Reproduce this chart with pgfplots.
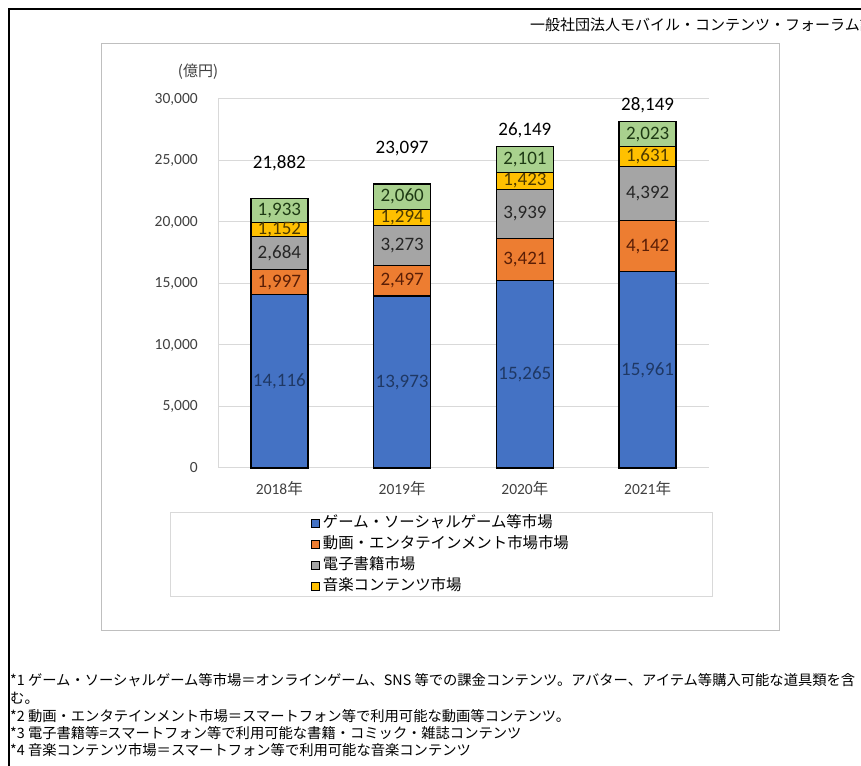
\documentclass[border=0pt]{standalone}
\usepackage{pgfplots}
\pgfplotsset{compat=1.18}
\usepackage{fontspec}
\setmainfont{Carlito}
\newfontfamily\jp{Noto Sans CJK JP}
\definecolor{cblue}{HTML}{4472C4}
\definecolor{corange}{HTML}{ED7D31}
\definecolor{cgray}{HTML}{A5A5A5}
\definecolor{cgold}{HTML}{FFC000}
\definecolor{cgreen}{HTML}{A9D18E}
\definecolor{tblue}{HTML}{1F3864}
\definecolor{torange}{HTML}{5A1E06}
\definecolor{tgray}{HTML}{262626}
\definecolor{tgold}{HTML}{4D3A00}
\definecolor{tgreen}{HTML}{1E3A14}
\definecolor{gridc}{HTML}{D9D9D9}
\definecolor{boxc}{HTML}{BFBFBF}
\definecolor{lbl}{HTML}{404040}

\begin{document}
\begin{tikzpicture}[x=1pt,y=1pt]
\useasboundingbox (0,0) rectangle (861,765);
\clip (0,0) rectangle (861,765);
% outer frame and source line
\draw[line width=2.5pt, black] (9,-2) -- (9,756) -- (865,756);
\node[anchor=west, inner sep=0pt, font=\jp\fontsize{15}{18}\selectfont] at (530,740)
  {一般社団法人モバイル・コンテンツ・フォーラム調査};
% chart box
\draw[boxc, line width=1pt] (101,134) rectangle (779,721);
\node[font=\jp\fontsize{15}{18}\selectfont, text=lbl] at (198,693) {(億円)};

\begin{axis}[
  at={(218pt,297pt)}, anchor=south west,
  scale only axis, width=491pt, height=369pt,
  ybar stacked, bar width=57pt,
  xmin=-0.5, xmax=3.5, ymin=0, ymax=30000,
  xtick={0,1,2,3},
  xticklabels={2018{\jp 年},2019{\jp 年},2020{\jp 年},2021{\jp 年}},
  ytick={0,5000,...,30000},
  scaled y ticks=false,
  /pgf/number format/1000 sep={,},
  /pgf/number format/assume math mode=true,
  ymajorgrids, major grid style={gridc, line width=1pt},
  axis lines*=left, axis line style={gridc, line width=1pt},
  major tick length=0pt,
  yticklabel style={font=\fontsize{15.5}{18}\selectfont, text=lbl, inner sep=0pt, xshift=-20pt},
  xticklabel style={font=\fontsize{15.5}{18}\selectfont, text=lbl, inner sep=0pt, yshift=-13pt},
  clip=false,
  nodes near coords,
  every node near coord/.append style={anchor=center, inner sep=0pt,
    font=\fontsize{19}{22}\selectfont},
  legend image code/.code={\draw[#1, draw=black, line width=0.8pt] (0pt,-4pt) rectangle (8pt,4pt);},
  legend cell align=left,
  legend style={at={(-0.0978,-0.1192)}, anchor=north west, draw=gridc, line width=1pt,
    minimum width=542pt, minimum height=84pt, inner sep=0pt, row sep=0pt,
    font=\jp\fontsize{15.4}{18}\selectfont,
    nodes={minimum width=0pt, minimum height=0pt, inner xsep=3.3pt, inner ysep=2.5pt,
      text height=13pt, text depth=3pt}},
]
\addplot[fill=cblue, draw=black, line width=1.3pt, every node near coord/.append style={text=tblue}]
  coordinates {(0,14116) (1,13973) (2,15265) (3,15961)};
\addlegendentry{ゲーム・ソーシャルゲーム等市場}
\addplot[fill=corange, draw=black, line width=1.3pt, every node near coord/.append style={text=torange}]
  coordinates {(0,1997) (1,2497) (2,3421) (3,4142)};
\addlegendentry{動画・エンタテインメント市場市場}
\addplot[fill=cgray, draw=black, line width=1.3pt, every node near coord/.append style={text=tgray}]
  coordinates {(0,2684) (1,3273) (2,3939) (3,4392)};
\addlegendentry{電子書籍市場}
\addplot[fill=cgold, draw=black, line width=1.3pt, every node near coord/.append style={text=tgold}]
  coordinates {(0,1152) (1,1294) (2,1423) (3,1631)};
\addlegendentry{音楽コンテンツ市場}
\addplot[fill=cgreen, draw=black, line width=1.3pt, every node near coord/.append style={text=tgreen}]
  coordinates {(0,1933) (1,2060) (2,2101) (3,2023)};
% totals
\node[font=\fontsize{19}{22}\selectfont, text=black] at (axis cs:0,24800) {21,882};
\node[font=\fontsize{19}{22}\selectfont, text=black] at (axis cs:1,25935) {23,097};
\node[font=\fontsize{19}{22}\selectfont, text=black] at (axis cs:2,27480) {26,149};
\node[font=\fontsize{19}{22}\selectfont, text=black] at (axis cs:3,29512) {28,149};
\end{axis}

% footnotes
\begin{scope}[every node/.style={anchor=west, inner sep=0pt, font=\jp\fontsize{14.3}{17}\selectfont}]
\node at (10,85) {*1 ゲーム・ソーシャルゲーム等市場＝オンラインゲーム、SNS 等での課金コンテンツ。アバター、アイテム等購入可能な道具類を含};
\node at (10,67) {む。};
\node at (10,49) {*2 動画・エンタテインメント市場＝スマートフォン等で利用可能な動画等コンテンツ。};
\node at (10,32) {*3 電子書籍等=スマートフォン等で利用可能な書籍・コミック・雑誌コンテンツ};
\node at (10,15) {*4 音楽コンテンツ市場＝スマートフォン等で利用可能な音楽コンテンツ};
\end{scope}
\end{tikzpicture}
\end{document}
